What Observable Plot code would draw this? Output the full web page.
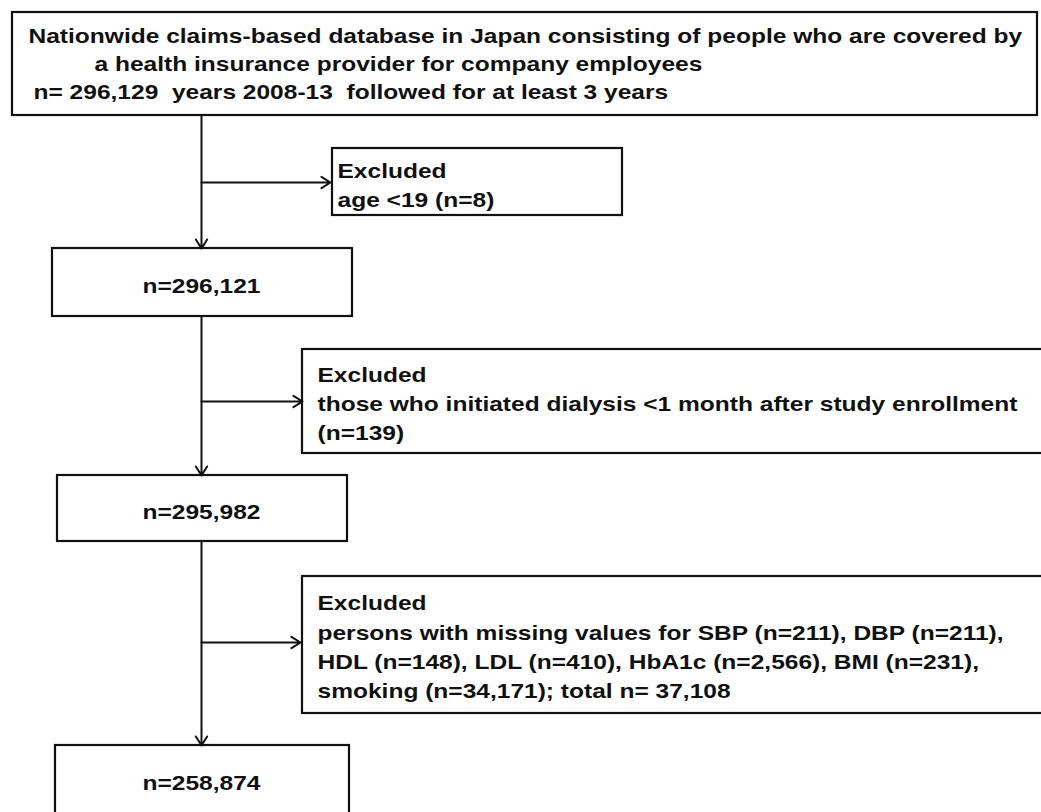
<!DOCTYPE html>
<html><head><meta charset="utf-8">
<script src="https://cdn.jsdelivr.net/npm/d3@7"></script>
<script src="https://cdn.jsdelivr.net/npm/@observablehq/plot@0.6"></script>
<style>
html,body{margin:0;padding:0;background:#fff;overflow:hidden;}
svg{display:block}
svg text{white-space:pre}
</style>
</head><body><div id="chart"></div>
<script>
// ---- data ----
const stageCounts = [296129, 296121, 295982, 258874];
const exclusionCounts = [8, 139, 37108];
const missingVars = ["SBP", "DBP", "HDL", "LDL", "HbA1c", "BMI", "smoking"];
const missingCounts = [211, 211, 148, 410, 2566, 231, 34171];
const studyYears = "2008-13";
const minFollowUpYears = 3;

const fmt = d3.format(",");
const miss = missingVars.map((v, i) => `${v} (n=${fmt(missingCounts[i])})`);

const sourceLines = [
  "Nationwide claims-based database in Japan consisting of people who are covered by",
  "a health insurance provider for company employees",
  `n= ${fmt(stageCounts[0])}  years ${studyYears}  followed for at least ${minFollowUpYears} years`
];
const exclusionLines = [
  ["Excluded", `age <19 (n=${fmt(exclusionCounts[0])})`],
  ["Excluded", "those who initiated dialysis <1 month after study enrollment", `(n=${fmt(exclusionCounts[1])})`],
  ["Excluded",
   `persons with missing values for ${miss[0]}, ${miss[1]},`,
   `${miss[2]}, ${miss[3]}, ${miss[4]}, ${miss[5]},`,
   `${miss[6]}; total n= ${fmt(exclusionCounts[2])}`]
];

// ---- layout (flowchart geometry, in pixel units of the x/y scales) ----
const W = 1041, H = 812;
const mainX = 201;
const boxes = [
  {x1: 12, x2: 1037, y1: 12, y2: 115},   // source
  {x1: 52, x2: 352, y1: 248, y2: 316},   // stage 1
  {x1: 57, x2: 347, y1: 475, y2: 541},   // stage 2
  {x1: 55, x2: 349, y1: 745, y2: 840},   // stage 3
  {x1: 332, x2: 622, y1: 148, y2: 215},  // excl 1
  {x1: 302, x2: 1060, y1: 349, y2: 453}, // excl 2
  {x1: 302, x2: 1060, y1: 576, y2: 713}  // excl 3
];
const arrows = [
  {x1: mainX, y1: 115, x2: mainX, y2: 248},
  {x1: mainX, y1: 316, x2: mainX, y2: 475},
  {x1: mainX, y1: 541, x2: mainX, y2: 745},
  {x1: mainX, y1: 182, x2: 330, y2: 182},
  {x1: mainX, y1: 401, x2: 302, y2: 401},
  {x1: mainX, y1: 642, x2: 300, y2: 642}
];

const texts = [];
[[28, 42], [94, 70], [33, 98]].forEach(([x, y], i) => texts.push({x, y, t: sourceLines[i], a: "start"}));
texts.push({x: mainX, y: 292, t: `n=${fmt(stageCounts[1])}`, a: "middle"});
texts.push({x: mainX, y: 518, t: `n=${fmt(stageCounts[2])}`, a: "middle"});
texts.push({x: mainX, y: 789, t: `n=${fmt(stageCounts[3])}`, a: "middle"});
const exclText = [
  {x: 337, ys: [177, 206]},
  {x: 317, ys: [381, 410, 439]},
  {x: 317, ys: [609, 639, 668, 697]}
];
exclText.forEach((e, k) => e.ys.forEach((y, i) => texts.push({x: e.x, y, t: exclusionLines[k][i], a: "start"})));

const font = "'Liberation Sans', Arial, Helvetica, sans-serif";
const fs = 21;
const stretch = 1.168; // the original lettering is horizontally widened

const chart = Plot.plot({
  width: W, height: H,
  margin: 0,
  x: {domain: [0, W], range: [0, W], axis: null},
  y: {domain: [0, H], range: [0, H], axis: null},
  style: {background: "#fff", fontFamily: font},
  marks: [
    Plot.rect(boxes, {x1: "x1", x2: "x2", y1: "y1", y2: "y2", fill: "#fff", stroke: "#111", strokeWidth: 2.2}),
    Plot.arrow(arrows, {x1: "x1", y1: "y1", x2: "x2", y2: "y2", stroke: "#111", strokeWidth: 2, headLength: 8, headAngle: 64}),
    Plot.text(texts.filter(d => d.a === "start"), {x: "x", y: "y", text: "t", textAnchor: "start", lineAnchor: "bottom", fontSize: fs, fontWeight: "bold", fill: "#111", fontFamily: font}),
    Plot.text(texts.filter(d => d.a === "middle"), {x: "x", y: "y", text: "t", textAnchor: "middle", lineAnchor: "bottom", fontSize: fs, fontWeight: "bold", fill: "#111", fontFamily: font})
  ]
});
document.getElementById("chart").appendChild(chart);
d3.select(chart).selectAll("text").each(function () {
  const L = this.getComputedTextLength();
  if (L > 0) {
    this.setAttribute("textLength", (L * stretch).toFixed(1));
    this.setAttribute("lengthAdjust", "spacingAndGlyphs");
  }
});
</script>
</body></html>
